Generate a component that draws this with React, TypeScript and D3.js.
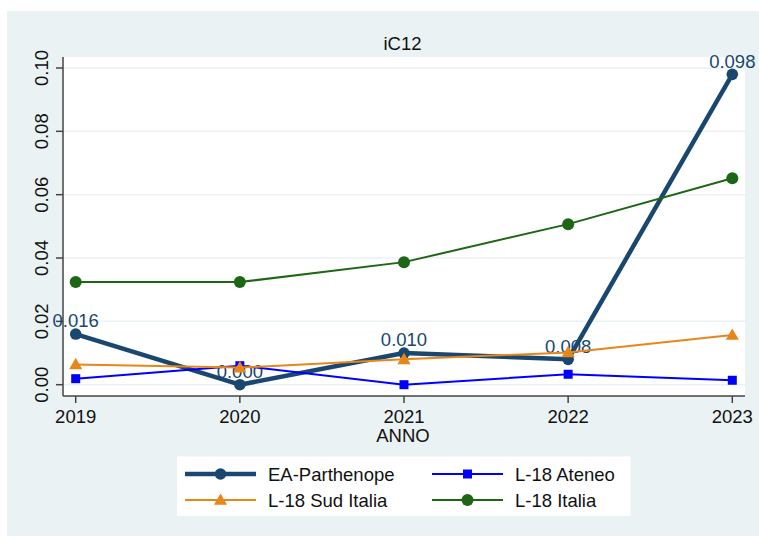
import React from "react";
import * as d3 from "d3";

const years = [2019, 2020, 2021, 2022, 2023];
const eaParthenope = [0.016, 0.0, 0.010, 0.008, 0.098];
const l18Ateneo = [0.0019, 0.006, 0.0, 0.0033, 0.0014];
const l18SudItalia = [0.0064, 0.0054, 0.008, 0.0102, 0.0157];
const l18Italia = [0.0324, 0.0324, 0.0387, 0.0507, 0.0652];
const yTicks = [0, 0.02, 0.04, 0.06, 0.08, 0.1];
const eaLabels = ["0.016", "0.000", "0.010", "0.008", "0.098"];

const FONT = "'Liberation Sans', Arial, Helvetica, sans-serif";
const FS = 18.5;
const BG = "#eaf2f3";
const C_EA = "#1a476f";
const C_AT = "#0000ff";
const C_SUD = "#e8861a";
const C_IT = "#1d6614";

export default function App() {
  const x = d3.scaleLinear().domain([2019, 2023]).range([75.7, 732.3]);
  const y = d3.scaleLinear().domain([0, 0.1]).range([384.7, 68]);
  const line = d3
    .line<number>()
    .x((_, i) => x(years[i]))
    .y((d) => y(d));

  const plotL = 63,
    plotR = 745,
    plotT = 57,
    plotB = 396;

  const tri = d3.symbol().type(d3.symbolTriangle).size(75)();

  const circle = (cx: number, cy: number, r: number, c: string, k: string) => (
    <circle key={k} cx={cx} cy={cy} r={r} fill={c} />
  );
  const square = (cx: number, cy: number, s: number, c: string, k: string) => (
    <rect key={k} x={cx - s / 2} y={cy - s / 2} width={s} height={s} fill={c} />
  );
  const triangle = (cx: number, cy: number, c: string, k: string) => (
    <path key={k} d={tri as string} transform={`translate(${cx},${cy + 1})`} fill={c} />
  );

  return (
    <svg
      width={759}
      height={536}
      style={{ position: "absolute", left: 0, top: 0, display: "block" }}
      fontFamily={FONT}
    >
      <rect x={0} y={0} width={759} height={536} fill="#ffffff" />
      <rect x={7} y={11} width={752} height={525} fill={BG} />
      <rect x={plotL} y={plotT} width={plotR - plotL} height={plotB - plotT} fill="#ffffff" />
      {/* grid */}
      {yTicks.map((t) => (
        <line key={"g" + t} x1={plotL} x2={plotR} y1={y(t)} y2={y(t)} stroke={BG} strokeWidth={1.5} />
      ))}
      {/* axes */}
      <line x1={plotL} x2={plotL} y1={plotT} y2={plotB} stroke="#444" strokeWidth={1.5} />
      <line x1={plotL} x2={plotR} y1={plotB} y2={plotB} stroke="#444" strokeWidth={1.5} />
      {yTicks.map((t) => (
        <g key={"yt" + t}>
          <line x1={plotL - 7} x2={plotL} y1={y(t)} y2={y(t)} stroke="#444" strokeWidth={1.5} />
          <text
            transform={`translate(47.5,${y(t)}) rotate(-90)`}
            textAnchor="middle"
            fontSize={FS}
            fill="#111"
          >
            {t.toFixed(2)}
          </text>
        </g>
      ))}
      {years.map((yr) => (
        <g key={"xt" + yr}>
          <line x1={x(yr)} x2={x(yr)} y1={plotB} y2={plotB + 7} stroke="#444" strokeWidth={1.5} />
          <text x={x(yr)} y={422.7} textAnchor="middle" fontSize={FS} fill="#111">
            {yr}
          </text>
        </g>
      ))}
      <text x={403} y={441.5} textAnchor="middle" fontSize={FS} fill="#111">
        ANNO
      </text>
      <text x={402.5} y={50} textAnchor="middle" fontSize={FS} fill="#111">
        iC12
      </text>

      {/* EA-Parthenope */}
      <path d={line(eaParthenope) as string} fill="none" stroke={C_EA} strokeWidth={4.5} strokeLinejoin="round" />
      {eaParthenope.map((v, i) => circle(x(years[i]), y(v), 5.8, C_EA, "ea" + i))}
      {eaParthenope.map((v, i) => (
        <text key={"lab" + i} x={x(years[i])} y={y(v) - 6.7} textAnchor="middle" fontSize={FS} fill={C_EA}>
          {eaLabels[i]}
        </text>
      ))}

      {/* L-18 Ateneo */}
      <path d={line(l18Ateneo) as string} fill="none" stroke={C_AT} strokeWidth={2} />
      {l18Ateneo.map((v, i) => square(x(years[i]), y(v), 9, C_AT, "at" + i))}

      {/* L-18 Sud Italia */}
      <path d={line(l18SudItalia) as string} fill="none" stroke={C_SUD} strokeWidth={2} />
      {l18SudItalia.map((v, i) => triangle(x(years[i]), y(v), C_SUD, "sud" + i))}

      {/* L-18 Italia */}
      <path d={line(l18Italia) as string} fill="none" stroke={C_IT} strokeWidth={2} />
      {l18Italia.map((v, i) => circle(x(years[i]), y(v), 6, C_IT, "it" + i))}

      {/* legend */}
      <rect x={177} y={456.5} width={453.5} height={59.5} fill="#ffffff" />
      <line x1={185} x2={256} y1={474} y2={474} stroke={C_EA} strokeWidth={4.5} />
      {circle(220.5, 474, 5.8, C_EA, "lg1")}
      <text x={268} y={480.5} fontSize={FS} fill="#111">EA-Parthenope</text>
      <line x1={185} x2={256} y1={500} y2={500} stroke={C_SUD} strokeWidth={2} />
      {triangle(220.5, 500, C_SUD, "lg2")}
      <text x={268} y={506.5} fontSize={FS} fill="#111">L-18 Sud Italia</text>
      <line x1={432} x2={503} y1={474} y2={474} stroke={C_AT} strokeWidth={2} />
      {square(467.5, 474, 9, C_AT, "lg3")}
      <text x={515} y={480.5} fontSize={FS} fill="#111">L-18 Ateneo</text>
      <line x1={432} x2={503} y1={500} y2={500} stroke={C_IT} strokeWidth={2} />
      {circle(467.5, 500, 6, C_IT, "lg4")}
      <text x={515} y={506.5} fontSize={FS} fill="#111">L-18 Italia</text>
    </svg>
  );
}
